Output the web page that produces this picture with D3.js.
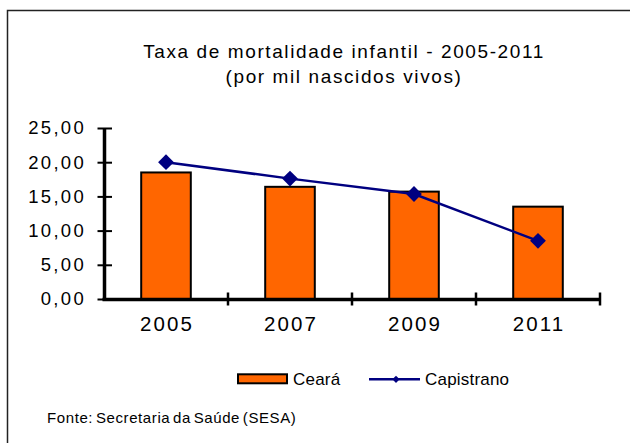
<!DOCTYPE html>
<html>
<head>
<meta charset="utf-8">
<script src="https://cdn.jsdelivr.net/npm/d3@7"></script>
<style>
  body { margin: 0; background: #fff; }
  svg text { font-family: "Liberation Sans", Arial, sans-serif; fill: #000; }
  .axis-line { stroke: #000; stroke-width: 3.5px; }
</style>
</head>
<body>
<div id="svg-container"></div>
<script>
// data
const years = ["2005", "2007", "2009", "2011"];
const ceara = [18.5, 16.4, 15.7, 13.5];
const capistrano = [20.0, 17.6, 15.35, 8.5];
const yTicks = [0, 5, 10, 15, 20, 25];
const titleLines = ["Taxa de mortalidade infantil - 2005-2011", "(por mil nascidos vivos)"];
const seriesNames = ["Ceará", "Capistrano"];
const source = "Fonte: Secretaria da Saúde (SESA)";

const width = 630;
const height = 443;
const fontFam = "Liberation Sans, Arial, sans-serif";

const svg = d3.select("#svg-container").append("svg")
  .attr("width", width)
  .attr("height", height);

// outer frame (runs past the right & bottom edges)
svg.append("rect")
  .attr("x", 7.5).attr("y", 10.5)
  .attr("width", 700).attr("height", 500)
  .attr("fill", "none")
  .attr("stroke", "#222")
  .attr("stroke-width", 1.5);

// title
svg.append("g").selectAll("text")
  .data(titleLines)
  .join("text")
  .attr("x", 344)
  .attr("y", (d, i) => 58 + i * 25)
  .attr("text-anchor", "middle")
  .attr("font-size", 19)
  .attr("letter-spacing", 1.6)
  .text((d) => d);

// scales
const xScale = d3.scaleBand().domain(years).range([104, 600]);
const yScale = d3.scaleLinear().domain([0, 25]).range([299, 128]);
const fmt = (d) => d3.format(".2f")(d).replace(".", ",");

// bars
svg.append("g").selectAll("rect")
  .data(years)
  .join("rect")
  .attr("x", (d) => xScale(d) + xScale.bandwidth() * 0.3)
  .attr("width", xScale.bandwidth() * 0.4)
  .attr("y", (d, i) => yScale(ceara[i]))
  .attr("height", (d, i) => yScale(0) - yScale(ceara[i]))
  .attr("fill", "#FF6600")
  .attr("stroke", "#000")
  .attr("stroke-width", 2);

// y axis
const yAxis = d3.axisLeft(yScale).tickValues(yTicks).tickFormat(fmt).tickSize(7).tickSizeOuter(0);
const gy = svg.append("g").attr("transform", "translate(104.5,0)").call(yAxis);
gy.select(".domain").remove();
gy.append("line").attr("class", "axis-line")
  .attr("y1", yScale(25)).attr("y2", yScale(0) + 1.5);
gy.selectAll(".tick line").attr("x1", 7.5).attr("x2", -7).attr("stroke", "#000").attr("stroke-width", 2);
gy.selectAll(".tick text")
  .attr("x", -18.5)
  .attr("font-size", 18.5)
  .attr("letter-spacing", 2.3)
  .attr("font-family", fontFam);

// x axis
const xAxis = d3.axisBottom(xScale).tickSize(0).tickPadding(17);
const gx = svg.append("g").attr("transform", "translate(0,299.5)").call(xAxis);
gx.select(".domain").remove();
gx.append("line").attr("class", "axis-line")
  .attr("x1", xScale.range()[0] - 1.5).attr("x2", xScale.range()[1] + 1);
gx.selectAll(".tick text")
  .attr("dx", 1)
  .attr("font-size", 20.5)
  .attr("letter-spacing", 2.1)
  .attr("font-family", fontFam);
// category separators
const sepX = years.slice(1).map((d) => xScale(d)).concat([xScale.range()[1]]);
gx.append("g").selectAll("line")
  .data(sepX)
  .join("line")
  .attr("x1", (d) => d).attr("x2", (d) => d)
  .attr("y1", -7).attr("y2", 6)
  .attr("stroke", "#000").attr("stroke-width", 2.5);

// line series
const cx = (d) => xScale(d) + xScale.bandwidth() / 2;
const line = d3.line()
  .x((d, i) => cx(years[i]))
  .y((d) => yScale(d));

svg.append("path")
  .datum(capistrano)
  .attr("fill", "none")
  .attr("stroke", "#000080")
  .attr("stroke-width", 2.5)
  .attr("d", line);

const diamond = d3.symbol().type(d3.symbolSquare).size(125);
svg.append("g").selectAll("path")
  .data(capistrano)
  .join("path")
  .attr("d", diamond)
  .attr("transform", (d, i) => `translate(${cx(years[i])},${yScale(d)}) rotate(45)`)
  .attr("fill", "#000080");

// legend
const leg = svg.append("g");
leg.append("rect")
  .attr("x", 238).attr("y", 374.3).attr("width", 49).attr("height", 9)
  .attr("fill", "#FF6600").attr("stroke", "#000").attr("stroke-width", 2);
leg.append("text").attr("x", 293).attr("y", 384.5).attr("font-size", 17)
  .attr("letter-spacing", 0.2).text(seriesNames[0]);
leg.append("line")
  .attr("x1", 369).attr("x2", 420).attr("y1", 379.3).attr("y2", 379.3)
  .attr("stroke", "#000080").attr("stroke-width", 2.5);
leg.append("path")
  .attr("d", d3.symbol().type(d3.symbolSquare).size(26))
  .attr("transform", "translate(396,379.3) rotate(45)")
  .attr("fill", "#000080");
leg.append("text").attr("x", 425).attr("y", 384.5).attr("font-size", 17)
  .attr("letter-spacing", 0.2).text(seriesNames[1]);

// source
svg.append("text")
  .attr("x", 47).attr("y", 423)
  .attr("font-size", 15)
  .attr("letter-spacing", 0.6)
  .attr("word-spacing", -2)
  .text(source);
</script>
</body>
</html>
